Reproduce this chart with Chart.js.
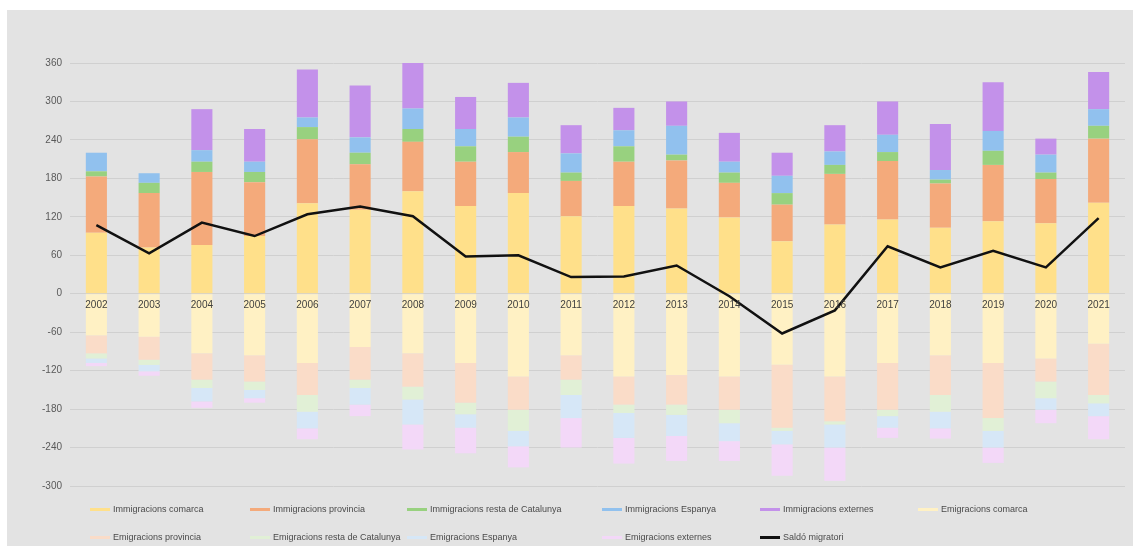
<!DOCTYPE html>
<html>
<head>
<meta charset="utf-8">
<script src="https://cdn.jsdelivr.net/npm/chart.js@4/dist/chart.umd.min.js"></script>
<style>
    html, body { margin: 0; padding: 0; background: #fff; }
    body { width: 1133px; height: 546px; overflow: hidden; position: relative; }
    #marc { position: absolute; left: 7px; top: 10px; width: 1126px; height: 536px; background: #e3e3e3; }
    #chartMigracions { position: absolute; left: 0; top: 0; }
    #llegenda {
        position: absolute; left: 83px; top: 485px;
        display: grid;
        grid-template-columns: 160px 157px 195px 158px 158px 180px;
        grid-auto-rows: 28px;
        font-family: "Liberation Sans", Arial, sans-serif; font-size: 9px; color: #4a4a4a;
    }
    .item { display: flex; align-items: center; white-space: nowrap; }
    .mostra { width: 20px; height: 3px; margin-right: 3px; }
</style>
</head>
<body>
<div id="marc">
    <canvas id="chartMigracions" width="1126" height="490"></canvas>
    <div id="llegenda"></div>
</div>
<script>
const anys = ['2002','2003','2004','2005','2006','2007','2008','2009','2010','2011',
              '2012','2013','2014','2015','2016','2017','2018','2019','2020','2021'];

// Immigracions
const immComarca   = [95, 72, 76, 90, 141, 131, 160, 137, 157, 121, 137, 133, 119, 82, 108, 116, 103, 113, 110, 142];
const immProvincia = [88, 85, 114, 84, 100, 71, 77, 69, 64, 55, 69, 75, 54, 57, 79, 91, 69, 88, 69, 100];
const immResta     = [8, 16, 16, 16, 19, 18, 20, 24, 24, 13, 24, 9, 16, 18, 14, 14, 6, 22, 10, 20];
const immEspanya   = [29, 15, 18, 16, 15, 24, 32, 27, 30, 30, 25, 45, 17, 27, 21, 27, 15, 31, 28, 26];
const immExternes  = [0, 0, 64, 51, 75, 81, 74, 50, 54, 44, 35, 38, 45, 36, 41, 52, 72, 76, 25, 58];

// Emigracions (negatives)
const emiComarca   = [-65, -67, -93, -96, -108, -83, -93, -108, -129, -96, -129, -127, -129, -111, -129, -108, -96, -108, -101, -78];
const emiProvincia = [-28, -36, -41, -41, -50, -51, -52, -62, -52, -38, -44, -46, -52, -98, -70, -73, -62, -86, -36, -80];
const emiResta     = [-8, -8, -13, -13, -26, -13, -20, -18, -33, -24, -13, -16, -21, -5, -5, -10, -26, -20, -26, -13];
const emiEspanya   = [-7, -10, -21, -13, -26, -26, -39, -21, -24, -36, -39, -33, -28, -21, -36, -18, -26, -26, -18, -20];
const emiExternes  = [-5, -7, -10, -7, -17, -18, -39, -40, -33, -46, -40, -39, -31, -49, -52, -16, -16, -24, -21, -36];

const saldo = [107, 63, 111, 90, 124, 136, 121, 58, 60, 26, 27, 44, -4, -62, -26, 74, 41, 67, 41, 118];

const canvas = document.getElementById('chartMigracions');
const context = canvas.getContext('2d');

const barra = (label, data, color) => ({
    type: 'bar',
    label: label,
    data: data,
    backgroundColor: color,
    stack: 'migracions',
    order: 2,
    barPercentage: 0.4,
    categoryPercentage: 1
});

const chartMigracions = new Chart(context, {
    data: {
        labels: anys,
        datasets: [
            barra('Immigracions comarca', immComarca, '#ffe08a'),
            barra('Immigracions provincia', immProvincia, '#f4aa7b'),
            barra('Immigracions resta de Catalunya', immResta, '#98d17f'),
            barra('Immigracions Espanya', immEspanya, '#91c1ee'),
            barra('Immigracions externes', immExternes, '#c391ea'),
            barra('Emigracions comarca', emiComarca, '#fff1c4'),
            barra('Emigracions provincia', emiProvincia, '#fadcc8'),
            barra('Emigracions resta de Catalunya', emiResta, '#e1f0d6'),
            barra('Emigracions Espanya', emiEspanya, '#d6e7f7'),
            barra('Emigracions externes', emiExternes, '#f3d8f8'),
            {
                type: 'line',
                label: 'Saldó migratori',
                data: saldo,
                borderColor: '#111',
                backgroundColor: '#111',
                borderWidth: 2.5,
                pointRadius: 0,
                tension: 0,
                order: 1
            }
        ]
    },
    options: {
        responsive: false,
        animation: false,
        layout: { padding: { left: 0, right: 8, top: 53, bottom: 11.5 } },
        plugins: {
            legend: { display: false },
            tooltip: { enabled: false }
        },
        scales: {
            x: {
                stacked: true,
                position: { y: 0 },
                grid: { display: false, drawTicks: false },
                border: { display: false },
                ticks: {
                    z: 1,
                    color: '#404040',
                    padding: 6,
                    autoSkip: false,
                    maxRotation: 0,
                    minRotation: 0,
                    font: { family: 'Liberation Sans', size: 10 }
                }
            },
            y: {
                stacked: true,
                min: -300,
                max: 360,
                afterFit: (scale) => { scale.width = 63; },
                grid: { color: '#d0d0d0', drawTicks: false },
                border: { display: false },
                ticks: {
                    stepSize: 60,
                    padding: 8,
                    color: '#595959',
                    font: { family: 'Liberation Sans', size: 10 }
                }
            }
        }
    }
});

// Llegenda en graella, com la del full de càlcul
const llegenda = document.getElementById('llegenda');
chartMigracions.data.datasets.forEach(ds => {
    const item = document.createElement('div');
    item.className = 'item';
    const mostra = document.createElement('span');
    mostra.className = 'mostra';
    mostra.style.background = ds.type === 'line' ? ds.borderColor : ds.backgroundColor;
    const text = document.createElement('span');
    text.textContent = ds.label;
    item.appendChild(mostra);
    item.appendChild(text);
    llegenda.appendChild(item);
});
</script>
</body>
</html>
